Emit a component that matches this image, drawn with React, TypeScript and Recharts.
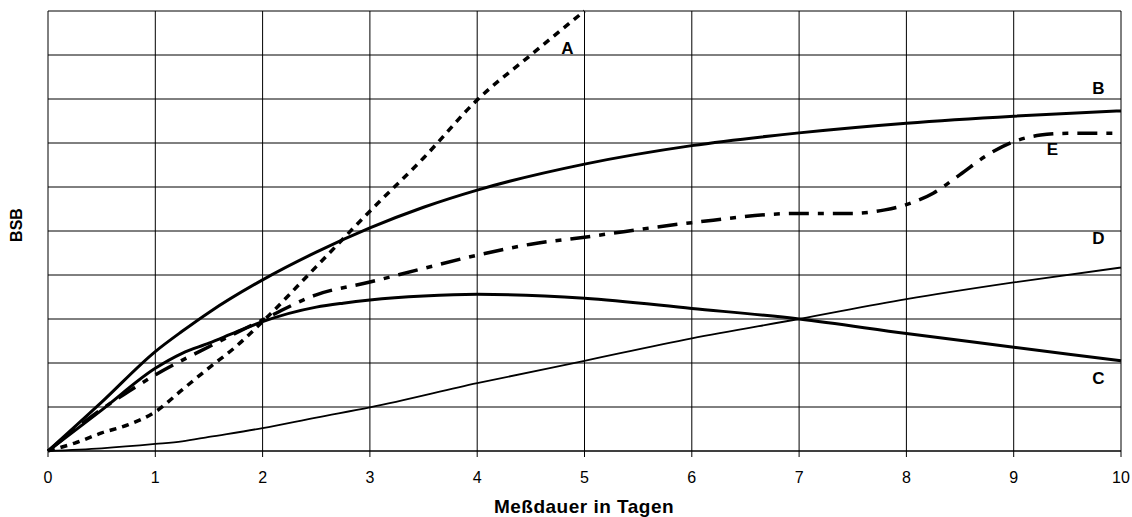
import { LineChart, Line, XAxis, YAxis, CartesianGrid, ReferenceDot } from "recharts";

// Meßdauer (Tage) und BSB-Werte je Kurve
const xTicks = [0, 1, 2, 3, 4, 5, 6, 7, 8, 9, 10];
const yTicks = [0, 1, 2, 3, 4, 5, 6, 7, 8, 9, 10];

const aDays = [0, 0.25, 0.5, 0.75, 1, 1.25, 1.5, 1.75, 2, 2.5, 3, 3.5, 4, 4.5, 5];
const aValues = [0, 0.18, 0.41, 0.6, 0.89, 1.39, 1.89, 2.37, 2.94, 4.19, 5.45, 6.66, 7.98, 9.0, 10];

const bDays = [0, 0.5, 1, 1.25, 1.5, 2, 2.5, 3, 3.5, 4, 5, 6, 7, 8, 9, 10];
const bValues = [0, 1.11, 2.26, 2.72, 3.15, 3.89, 4.52, 5.07, 5.54, 5.93, 6.52, 6.94, 7.23, 7.45, 7.61, 7.73];

const cDays = [0, 0.5, 1, 1.25, 1.5, 1.75, 2, 2.5, 2.75, 3, 3.5, 4, 5, 6, 7, 8, 9, 10];
const cValues = [0, 0.93, 1.88, 2.22, 2.45, 2.7, 2.94, 3.27, 3.36, 3.43, 3.52, 3.56, 3.47, 3.24, 3.0, 2.67, 2.36, 2.05];

const dDays = [0, 0.5, 1, 1.25, 1.5, 2, 2.5, 3, 4, 5, 6, 7, 8, 9, 10];
const dValues = [0, 0.06, 0.16, 0.22, 0.32, 0.52, 0.76, 0.99, 1.54, 2.05, 2.56, 3.0, 3.45, 3.83, 4.17];

const eDays = [0, 0.5, 0.75, 1, 1.5, 2, 2.5, 3, 3.5, 4, 4.5, 5, 6, 7, 7.5, 7.8, 8, 8.25, 8.5, 8.75, 9, 9.25, 9.5, 10];
const eValues = [0, 0.95, 1.35, 1.73, 2.37, 2.98, 3.55, 3.84, 4.15, 4.45, 4.7, 4.86, 5.19, 5.4, 5.4, 5.48, 5.6, 5.86, 6.28, 6.72, 7.03, 7.18, 7.22, 7.22];

const toPoints = (days: number[], values: number[]) => days.map((x, i) => ({ x, y: values[i] }));

const FONT = "'Liberation Sans', Arial, sans-serif";

const curveLabel = (value: string) => ({
  value,
  position: "center" as const,
  fill: "#000",
  fontSize: 17,
  fontWeight: "bold",
  fontFamily: FONT,
});

export default function App() {
  return (
    <div style={{ position: "absolute", left: 0, top: 0, width: 1132, height: 517, background: "#fff" }}>
      <LineChart width={1132} height={517} margin={{ top: 11, right: 11, left: 0, bottom: 0 }}>
        <CartesianGrid stroke="#000" strokeWidth={1} />
        <XAxis
          type="number"
          dataKey="x"
          domain={[0, 10]}
          ticks={xTicks}
          height={66}
          axisLine={{ stroke: "#000" }}
          tickLine={{ stroke: "#000" }}
          tickSize={6}
          tickMargin={15}
          tick={{ fill: "#000", fontSize: 16, fontFamily: FONT }}
          label={{
            content: () => (
              <text x={584} y={513} textAnchor="middle" fill="#000" fontSize={19} fontWeight="bold" fontFamily={FONT} letterSpacing={0.5}>
                Meßdauer in Tagen
              </text>
            ),
          }}
        />
        <YAxis
          type="number"
          dataKey="y"
          domain={[0, 10]}
          ticks={yTicks}
          width={48}
          axisLine={false}
          tickLine={false}
          tick={() => <g />}
          label={{
            content: () => (
              <text x={16} y={225} transform="rotate(-90 16 225)" textAnchor="middle" dominantBaseline="central" fill="#000" fontSize={16} fontWeight="bold" fontFamily={FONT}>
                BSB
              </text>
            ),
          }}
        />
        <Line data={toPoints(dDays, dValues)} dataKey="y" type="monotone" stroke="#000" strokeWidth={1.8} dot={false} activeDot={false} isAnimationActive={false} />
        <Line data={toPoints(cDays, cValues)} dataKey="y" type="monotone" stroke="#000" strokeWidth={3} dot={false} activeDot={false} isAnimationActive={false} />
        <Line data={toPoints(bDays, bValues)} dataKey="y" type="monotone" stroke="#000" strokeWidth={3} dot={false} activeDot={false} isAnimationActive={false} />
        <Line data={toPoints(eDays, eValues)} dataKey="y" type="monotone" stroke="#000" strokeWidth={3.5} strokeDasharray="20 9 6 9" dot={false} activeDot={false} isAnimationActive={false} />
        <Line data={toPoints(aDays, aValues)} dataKey="y" type="monotone" stroke="#000" strokeWidth={3.5} strokeDasharray="7 6" dot={false} activeDot={false} isAnimationActive={false} />
        <ReferenceDot x={4.84} y={9.16} r={0} stroke="none" label={curveLabel("A")} />
        <ReferenceDot x={9.79} y={8.25} r={0} stroke="none" label={curveLabel("B")} />
        <ReferenceDot x={9.36} y={6.86} r={0} stroke="none" label={curveLabel("E")} />
        <ReferenceDot x={9.79} y={4.84} r={0} stroke="none" label={curveLabel("D")} />
        <ReferenceDot x={9.79} y={1.65} r={0} stroke="none" label={curveLabel("C")} />
      </LineChart>
    </div>
  );
}
